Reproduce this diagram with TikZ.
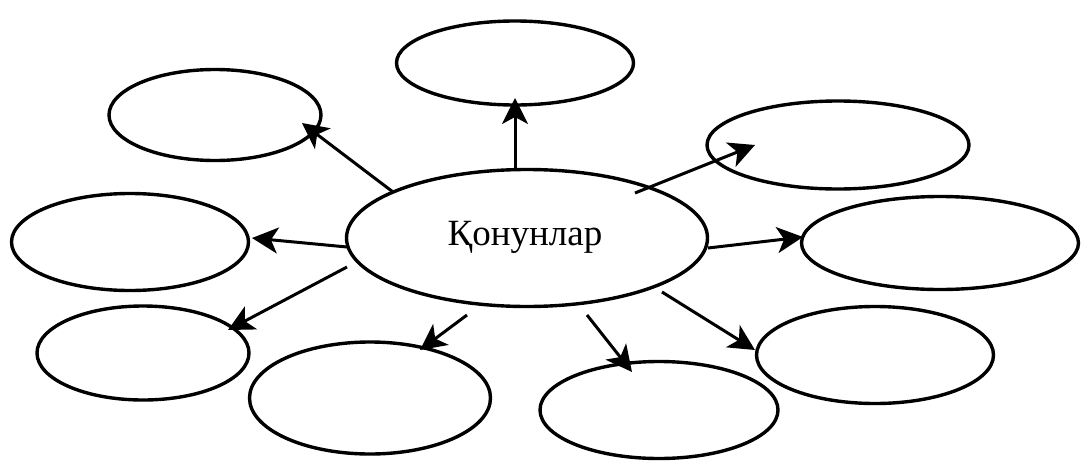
\documentclass[tikz,border=0pt]{standalone}
\usepackage{fontspec}
\setmainfont{Liberation Serif}
\usetikzlibrary{shapes.geometric,arrows.meta}
\tikzset{
  oval/.style={draw=black, line width=3.4pt, ellipse, inner sep=0pt},
  arr/.style={line width=3pt, -{Stealth[length=26pt,width=26pt,inset=7pt]}}
}
\begin{document}
\begin{tikzpicture}[x=1pt,y=-1pt]
\useasboundingbox (0,0) rectangle (1086,463);
\node[oval, minimum width=361pt, minimum height=137pt] (c) at (527,238) {};
\node[font=\fontsize{37}{44}\selectfont, anchor=base] (ct) at (525,245) {Қонунлар};
\node[oval, minimum width=237pt, minimum height=84pt] (t) at (515,63) {};
\node[oval, minimum width=212pt, minimum height=91pt] (tl) at (215,115) {};
\node[oval, minimum width=262pt, minimum height=88pt] (tr) at (838,145) {};
\node[oval, minimum width=237pt, minimum height=97pt] (l) at (130,242) {};
\node[oval, minimum width=277pt, minimum height=93pt] (r) at (940,243) {};
\node[oval, minimum width=212pt, minimum height=94pt] (bl) at (143,353) {};
\node[oval, minimum width=241pt, minimum height=112pt] (bcl) at (370,398) {};
\node[oval, minimum width=238pt, minimum height=97pt] (bcr) at (659,410) {};
\node[oval, minimum width=237pt, minimum height=97pt] (br) at (875,355) {};
% arrow ends
\coordinate (s1) at (515,170); \coordinate (e1) at (515,98);
\coordinate (s2) at (393,192); \coordinate (e2) at (302,123);
\coordinate (s3) at (635,193); \coordinate (e3) at (755,145);
\coordinate (s4) at (347,247); \coordinate (e4) at (252,238);
\coordinate (s5) at (708,248); \coordinate (e5) at (803,237);
\coordinate (s6) at (347,267); \coordinate (e6) at (228,330);
\coordinate (s7) at (467,315); \coordinate (e7) at (420,350);
\coordinate (s8) at (587,315); \coordinate (e8) at (632,372);
\coordinate (s9) at (662,292); \coordinate (e9) at (755,350);
\draw[arr] (s1) -- (e1);
\draw[arr] (s2) -- (e2);
\draw[arr] (s3) -- (e3);
\draw[arr] (s4) -- (e4);
\draw[arr] (s5) -- (e5);
\draw[arr] (s6) -- (e6);
\draw[arr] (s7) -- (e7);
\draw[arr] (s8) -- (e8);
\draw[arr] (s9) -- (e9);
\end{tikzpicture}
\end{document}
